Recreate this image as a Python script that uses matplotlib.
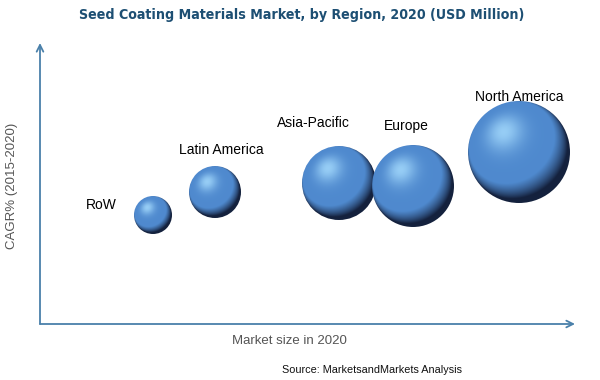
import numpy as np
import matplotlib
matplotlib.use("Agg")
import matplotlib.pyplot as plt
from matplotlib.patches import Circle

# bubble data (arbitrary chart units: market size position, CAGR position, bubble radius)
regions = ["RoW", "Latin America", "Asia-Pacific", "Europe", "North America"]
market_size = [113, 175, 299, 373, 479]
cagr = [109, 132, 141, 138, 172]
bubble_r = [19, 26, 37, 41, 51]

# label offsets relative to bubble centre
label_dx = [-52, 6, -26, -7, 0]
label_dy = [10, 42, 60, 60, 55]


def sphere(n=200):
    t = np.linspace(-1, 1, n)
    xx, yy = np.meshgrid(t, t)
    rr = xx**2 + yy**2
    zz = np.sqrt(np.clip(1 - rr, 0, 1))
    L = np.array([-0.3, 0.4, 0.87])
    L = L / np.linalg.norm(L)
    d = np.clip(xx*L[0] + yy*L[1] + zz*L[2], 0, 1)
    base = np.array([0.31, 0.54, 0.81])
    dark = np.array([0.08, 0.13, 0.24])
    col = dark + (base - dark) * np.clip(d*2.1, 0, 1)[..., None]
    spec = np.clip(d, 0, 1)**14
    hi = np.array([0.66, 0.87, 1.0])
    col = col + (hi - col) * (spec*0.8)[..., None]
    return np.clip(col, 0, 1)


img = sphere()

fig = plt.figure(figsize=(6, 3.8), dpi=100)
ax = fig.add_axes([40/600, 56/380, 535/600, 281/380])
ax.set_xlim(0, 535)
ax.set_ylim(0, 281)
ax.axis("off")

for i in range(len(regions)):
    x, y, r = market_size[i], cagr[i], bubble_r[i]
    c = Circle((x, y), r, transform=ax.transData, facecolor="none", edgecolor="none")
    ax.add_patch(c)
    im = ax.imshow(img, extent=[x-r, x+r, y-r, y+r], origin="lower", interpolation="bilinear", zorder=2)
    im.set_clip_path(c)
    ax.text(x + label_dx[i], y + label_dy[i], regions[i], ha="center", va="center",
            fontsize=10, family="Liberation Sans", color="black")

axis_col = "#4a80aa"
ax.annotate("", xy=(0, 1), xytext=(0, 0), xycoords="axes fraction",
            arrowprops=dict(arrowstyle="->", color=axis_col, lw=1.3, shrinkA=0, shrinkB=0,
                            mutation_scale=12), annotation_clip=False)
ax.annotate("", xy=(1, 0), xytext=(0, 0), xycoords="axes fraction",
            arrowprops=dict(arrowstyle="->", color=axis_col, lw=1.3, shrinkA=0, shrinkB=0,
                            mutation_scale=12), annotation_clip=False)

fig.text(302/600, 1 - 15/380, "Seed Coating Materials Market, by Region, 2020 (USD Million)",
         ha="center", va="center", fontsize=10.2, fontweight="bold", color="#1d4f73",
         family="DejaVu Sans", fontstretch="condensed")
fig.text(12/600, 1 - 186/380, "CAGR% (2015-2020)", rotation=90, ha="center", va="center",
         fontsize=9.5, color="#555555", family="Liberation Sans")
fig.text(289/600, 1 - 341/380, "Market size in 2020", ha="center", va="center",
         fontsize=9.5, color="#555555", family="Liberation Sans")
fig.text(372/600, 1 - 370/380, "Source: MarketsandMarkets Analysis", ha="center", va="center",
         fontsize=7.8, color="#111111", family="Liberation Sans")

fig.savefig("out.png", dpi=100)
